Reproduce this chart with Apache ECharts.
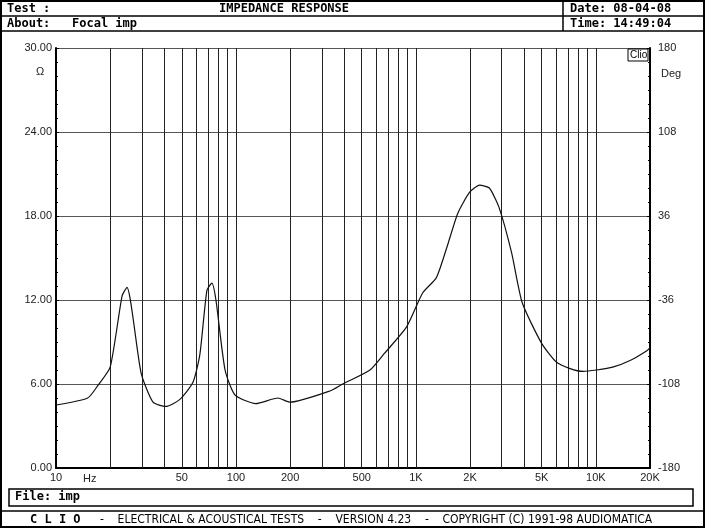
<!DOCTYPE html>
<html>
<head>
<meta charset="utf-8">
<script src="https://cdn.jsdelivr.net/npm/echarts@6/dist/echarts.min.js"></script>
<style>
  html, body { margin: 0; padding: 0; background: #fff; }
  #chart { width: 705px; height: 528px; }
</style>
</head>
<body>
<div id="chart"></div>
<script>
// impedance curve (Hz, ohm)
const freqs = [10, 15, 17.1, 20, 23.3, 24.8, 29.7, 34.6, 40.8, 48.8, 57.6, 63, 69, 73.5, 77.4, 87, 99, 129, 171, 200,
    333, 392, 556, 670, 890, 1090, 1300, 1490, 1710, 1990, 2260, 2560, 2900, 3400, 3900, 5000, 6000, 7200, 8500,
    10100, 12400, 15600, 19300, 20000];
const ohms = [4.5, 5.0, 5.9, 7.2, 12.3, 12.9, 6.8, 4.7, 4.4, 4.9, 6.1, 8.1, 12.7, 13.2, 12.0, 7.0, 5.2, 4.6, 5.0, 4.7,
    5.5, 6.0, 7.0, 8.2, 10.1, 12.5, 13.6, 15.8, 18.2, 19.7, 20.2, 20.0, 18.6, 15.4, 11.8, 8.9, 7.6, 7.1, 6.9,
    7.0, 7.2, 7.7, 8.4, 8.6];

const gridFreqs = [20, 30, 40, 50, 60, 70, 80, 90, 100, 200, 300, 400, 500, 600, 700, 800, 900, 1000,
    2000, 3000, 4000, 5000, 6000, 7000, 8000, 9000, 10000];
const freqLabels = { 10: '10', 50: '50', 100: '100', 200: '200', 500: '500', 1000: '1K', 2000: '2K',
    5000: '5K', 10000: '10K', 20000: '20K' };

const mono = 'DejaVu Sans Mono';
const chart = echarts.init(document.getElementById('chart'));

const vLines = gridFreqs.map(f => ({ xAxis: f }));
const labelLines = Object.keys(freqLabels).map(f => ({
    xAxis: +f,
    lineStyle: { width: 0 },
    label: { show: true, formatter: freqLabels[f] }
}));

chart.setOption({
    animation: false,
    grid: { left: 56, right: 55, top: 48, bottom: 60 },
    xAxis: {
        type: 'log', min: 10, max: 20000, logBase: 10,
        axisLine: { lineStyle: { color: '#000', width: 2 } },
        axisTick: { show: false },
        axisLabel: { show: false },
        splitLine: { show: false }
    },
    yAxis: [{
        type: 'value', min: 0, max: 30, interval: 6,
        axisLine: { show: true, lineStyle: { color: '#000', width: 2 } },
        axisTick: { show: true, inside: true, length: 3, lineStyle: { color: '#000' } },
        minorTick: { show: true, splitNumber: 6, length: 2, lineStyle: { color: '#000' } },
        axisLabel: { formatter: v => v.toFixed(2), color: '#222', fontSize: 11, fontFamily: 'Liberation Sans', margin: 4 },
        splitLine: { lineStyle: { color: '#555', width: 1 } }
    }, {
        type: 'value', min: -180, max: 180, interval: 72, position: 'right',
        axisLine: { show: true, lineStyle: { color: '#000', width: 2 } },
        axisTick: { show: true, inside: true, length: 3, lineStyle: { color: '#000' } },
        minorTick: { show: true, splitNumber: 6, length: 2, lineStyle: { color: '#000' } },
        axisLabel: { color: '#222', fontSize: 11, fontFamily: 'Liberation Sans', margin: 8 },
        splitLine: { show: false }
    }],
    series: [{
        type: 'line',
        data: freqs.map((f, i) => [f, ohms[i]]),
        showSymbol: false,
        smooth: 0.2,
        lineStyle: { color: '#111', width: 1.2 },
        z: 5,
        markLine: {
            symbol: 'none', silent: true,
            lineStyle: { color: '#222', width: 1, type: 'solid' },
            label: { show: false, position: 'start', color: '#222', fontSize: 11, fontFamily: 'Liberation Sans', distance: 4 },
            data: vLines.concat(labelLines)
        }
    }],
    graphic: [
        // outer frame
        { type: 'rect', shape: { x: 1, y: 1, width: 703, height: 526 }, style: { fill: 'none', stroke: '#000', lineWidth: 2 } },
        // header
        { type: 'line', shape: { x1: 0, y1: 16, x2: 705, y2: 16 }, style: { stroke: '#000', lineWidth: 1.5 } },
        { type: 'line', shape: { x1: 0, y1: 31, x2: 705, y2: 31 }, style: { stroke: '#000', lineWidth: 1.5 } },
        { type: 'line', shape: { x1: 563, y1: 0, x2: 563, y2: 31 }, style: { stroke: '#000', lineWidth: 1.5 } },
        { type: 'text', left: 7, top: 3, style: { text: 'Test :', font: 'bold 12px ' + mono, fill: '#000' } },
        { type: 'text', left: 219, top: 3, style: { text: 'IMPEDANCE RESPONSE', font: 'bold 12px ' + mono, fill: '#000' } },
        { type: 'text', left: 570, top: 3, style: { text: 'Date: 08-04-08', font: 'bold 12px ' + mono, fill: '#000' } },
        { type: 'text', left: 7, top: 18, style: { text: 'About:   Focal imp', font: 'bold 12px ' + mono, fill: '#000' } },
        { type: 'text', left: 570, top: 18, style: { text: 'Time: 14:49:04', font: 'bold 12px ' + mono, fill: '#000' } },
        // unit labels
        { type: 'text', left: 36, top: 66, style: { text: 'Ω', font: '11px Liberation Sans', fill: '#222' } },
        { type: 'text', left: 661, top: 68, style: { text: 'Deg', font: '11px Liberation Sans', fill: '#222' } },
        { type: 'text', left: 83, top: 473, style: { text: 'Hz', font: '11px Liberation Sans', fill: '#222' } },
        { type: 'rect', shape: { x: 628, y: 49, width: 20, height: 12 }, style: { fill: '#fff', stroke: '#000', lineWidth: 1 }, z: 10 },
        { type: 'text', left: 630, top: 50, z: 11, style: { text: 'Clio', font: '10px Liberation Sans', fill: '#000' } },
        // footer
        { type: 'rect', shape: { x: 9, y: 489, width: 684, height: 17 }, style: { fill: 'none', stroke: '#000', lineWidth: 1.5 } },
        { type: 'text', left: 15, top: 491, style: { text: 'File: imp', font: 'bold 12px ' + mono, fill: '#000' } },
        { type: 'line', shape: { x1: 0, y1: 511, x2: 705, y2: 511 }, style: { stroke: '#000', lineWidth: 1.5 } },
        { type: 'text', left: 30, top: 514, style: { text: 'C L I O', font: 'bold 12px ' + mono, fill: '#000' } },
        { type: 'text', left: 100, top: 514, style: { text: '-    ELECTRICAL & ACOUSTICAL TESTS    -    VERSION 4.23    -    COPYRIGHT (C) 1991-98 AUDIOMATICA', font: '12px DejaVu Sans Condensed', fill: '#000' } }
    ]
});
</script>
</body>
</html>
